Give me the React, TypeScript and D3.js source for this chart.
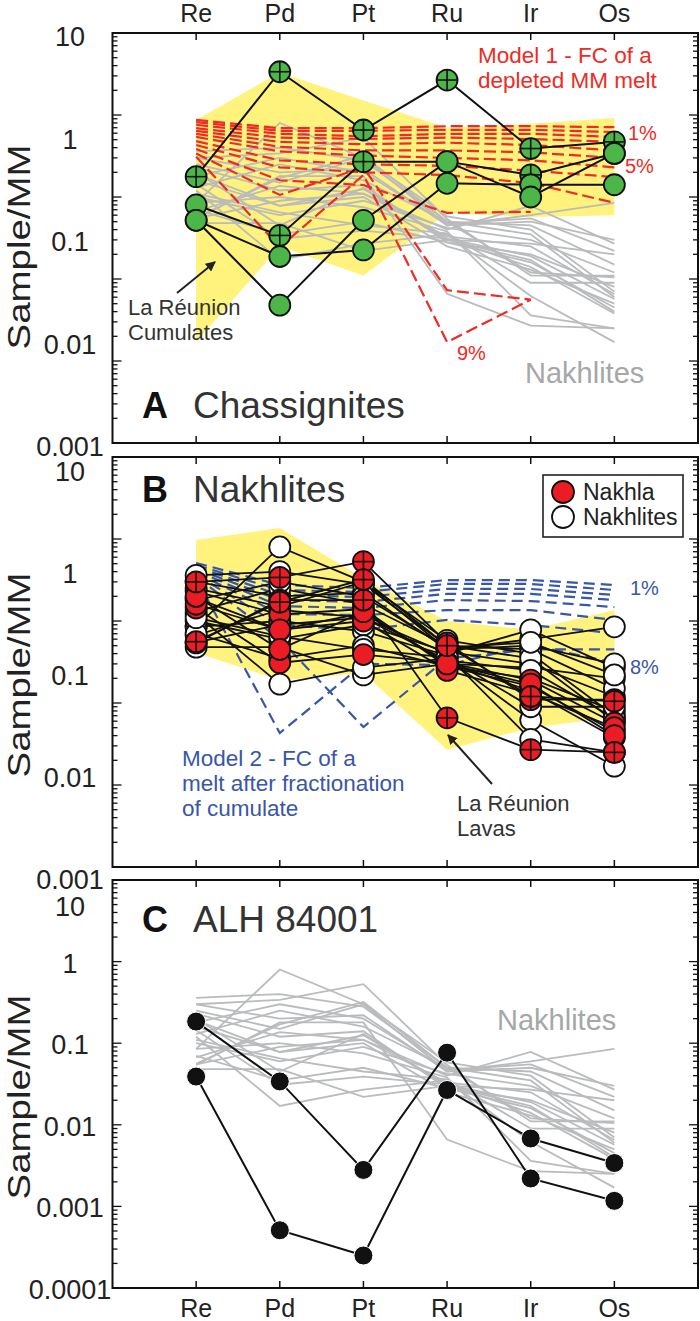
import React from "react";
import * as d3 from "d3";

// ---------- data ----------
const elements = ["Re", "Pd", "Pt", "Ru", "Ir", "Os"];

// Nakhlites (Sample/MM) - Nakhla analyses marked with a cross
const nakhlaCross: number[][] = [
  [0.30, 0.34, 0.53, 0.054, 0.011, 0.011],
  [0.054, 0.18, 0.18, 0.0066, 0.0027, 0.0025],
  [0.056, 0.17, 0.32, 0.05, 0.012, 0.0105],
];
const nakhlaSolid: number[][] = [
  [0.19, 0.078, 0.125, 0.031, 0.019, 0.0057],
  [0.144, 0.031, 0.039, 0.031, 0.014, 0.0038],
  [0.23, 0.12, 0.14, 0.028, 0.016, 0.0045],
  [0.16, 0.078, 0.10, 0.025, 0.013, 0.005],
  [0.20, 0.045, 0.13, 0.03, 0.017, 0.004],
];
const otherNakhlites: number[][] = [
  [0.085, 0.8, 0.3, 0.045, 0.06, 0.085],
  [0.067, 0.137, 0.11, 0.04, 0.078, 0.027],
  [0.048, 0.048, 0.022, 0.03, 0.027, 0.02],
  [0.12, 0.017, 0.027, 0.035, 0.0062, 0.0017],
  [0.3, 0.2, 0.22, 0.045, 0.05, 0.03],
  [0.085, 0.1, 0.075, 0.038, 0.0036, 0.0025],
  [0.1, 0.06, 0.09, 0.042, 0.03, 0.012],
  [0.13, 0.25, 0.16, 0.05, 0.045, 0.015],
  [0.07, 0.035, 0.05, 0.028, 0.02, 0.008],
  [0.25, 0.15, 0.3, 0.058, 0.04, 0.007],
  [0.36, 0.4, 0.28, 0.05, 0.035, 0.006],
  [0.055, 0.09, 0.11, 0.033, 0.025, 0.0065],
  [0.18, 0.3, 0.2, 0.047, 0.055, 0.022],
  [0.11, 0.065, 0.045, 0.036, 0.009, 0.009],
];

// Chassignites
const chassignites: number[][] = [
  [0.177, 3.37, 0.656, 2.67, 0.39, 0.47],
  [0.08, 0.034, 0.27, 0.27, 0.186, 0.34],
  [0.052, 0.0188, 0.0226, 0.147, 0.141, 0.141],
  [0.052, 0.0048, 0.052, 0.27, 0.1, 0.34],
];
const chassigniteCross: boolean[][] = [
  [true, true, true, true, true, true],
  [false, true, true, false, true, false],
  [false, false, false, false, false, false],
  [false, false, false, false, false, false],
];

// La Réunion fields (min / max)
const cumulateMax = [0.87, 3.3, 1.5, 0.7, 0.78, 0.92];
const cumulateMin = [0.0017, 0.025, 0.011, 0.064, 0.057, 0.06];
const lavaMax = [0.97, 1.36, 0.33, 0.1, 0.078, 0.136];
const lavaMin = [0.041, 0.019, 0.023, 0.0027, 0.005, 0.0067];

// Model 1 (red dashed)
const model1: (number | null)[][] = [
  [0.87, 0.69, 0.69, 0.73, 0.73, 0.71],
  [0.82, 0.64, 0.64, 0.66, 0.66, 0.62],
  [0.76, 0.59, 0.55, 0.59, 0.59, 0.54],
  [0.69, 0.53, 0.51, 0.53, 0.51, 0.47],
  [0.64, 0.47, 0.44, 0.46, 0.43, 0.37],
  [0.59, 0.41, 0.37, 0.37, 0.35, 0.3],
  [0.54, 0.36, 0.32, 0.3, 0.28, 0.23],
  [0.48, 0.28, 0.25, 0.24, 0.21, 0.175],
  [0.43, 0.23, 0.2, 0.185, 0.148, 0.085],
  [0.385, 0.16, 0.14, 0.064, 0.066, null],
  [0.34, 0.106, 0.23, 0.0073, 0.0056, null],
  [0.31, 0.0245, 0.185, 0.0017, 0.0056, null],
];

// Model 2 (blue dashed)
const model2: number[][] = [
  [0.51, 0.275, 0.253, 0.316, 0.316, 0.275],
  [0.48, 0.239, 0.226, 0.283, 0.283, 0.239],
  [0.456, 0.208, 0.196, 0.246, 0.246, 0.208],
  [0.431, 0.18, 0.171, 0.214, 0.214, 0.18],
  [0.407, 0.152, 0.144, 0.18, 0.175, 0.148],
  [0.385, 0.122, 0.118, 0.136, 0.136, 0.103],
  [0.364, 0.089, 0.078, 0.103, 0.089, 0.071],
  [0.344, 0.06, 0.0051, 0.035, 0.045, 0.045],
  [0.33, 0.0043, 0.03, 0.029, 0.051, 0.031],
];

// ALH 84001
const alh84001: number[][] = [
  [0.184, 0.034, 0.0028, 0.0766, 0.0022, 0.00117],
  [0.039, 0.00051, 0.00025, 0.0267, 0.0068, 0.0034],
];

const tickLabelsAB = [10, 1, 0.1, 0.01, 0.001];
const tickLabelsC = [10, 1, 0.1, 0.01, 0.001, 0.0001];

// ---------- layout ----------
const W = 700;
const H = 1321;
const FL = 112.5;
const FR = 698;
const panels = [
  { top: 33, bottom: 443, labTop: 37, labBottom: 447 },
  { top: 457, bottom: 867, labTop: 472, labBottom: 880 },
  { top: 880, bottom: 1288, labTop: 0, labBottom: 0 },
];
const FONT = "'Liberation Sans', Arial, Helvetica, sans-serif";
const GREEN = "#4cb748";
const RED = "#ec1c24";
const YELLOW = "#fff27d";
const GRAY = "#b9bbbd";
const BLUE = "#3956a8";
const MRED = "#ee2b24";

function Marker({ cx, cy, fill, cross, r = 10.5 }: { cx: number; cy: number; fill: string; cross?: boolean; r?: number }) {
  return (
    <g>
      <circle cx={cx} cy={cy} r={r} fill={fill} stroke="#111" strokeWidth={1.8} />
      {cross && (
        <>
          <line x1={cx - r} x2={cx + r} y1={cy} y2={cy} stroke="#111" strokeWidth={1.6} />
          <line x1={cx} x2={cx} y1={cy - r} y2={cy + r} stroke="#111" strokeWidth={1.6} />
        </>
      )}
    </g>
  );
}

export default function App() {
  const x = d3.scalePoint<string>().domain(elements).range([FL, FR]).padding(1);
  const ys = panels.map((p) => d3.scaleLog().domain([1e-4, 10]).range([p.bottom, p.top]));
  const xi = (i: number) => x(elements[i]) as number;

  const lineGen = (y: d3.ScaleLogarithmic<number, number>) =>
    d3
      .line<number | null>()
      .defined((v) => v != null)
      .x((_, i) => xi(i))
      .y((v) => y(v as number));

  const areaGen = (y: d3.ScaleLogarithmic<number, number>, lo: number[]) =>
    d3
      .area<number>()
      .x((_, i) => xi(i))
      .y0((_, i) => y(lo[i]))
      .y1((v) => y(v));

  const tickVals: { v: number; major: boolean }[] = [];
  for (let e = -4; e <= 0; e++) {
    for (let k = 1; k <= 9; k++) tickVals.push({ v: k * Math.pow(10, e), major: k === 1 });
  }
  tickVals.push({ v: 10, major: true });

  const allNakhlites = [...nakhlaCross, ...nakhlaSolid, ...otherNakhlites];

  const frame = (pi: number) => {
    const p = panels[pi];
    const y = ys[pi];
    return (
      <g key={"frame" + pi}>
        <rect x={FL} y={p.top} width={FR - FL} height={p.bottom - p.top} fill="none" stroke="#111" strokeWidth={2} />
        {tickVals.map((t, i) => {
          const yy = y(t.v);
          const len = t.major ? 9 : 5;
          return (
            <g key={i}>
              <line x1={FL} x2={FL + len} y1={yy} y2={yy} stroke="#111" strokeWidth={1.3} />
              <line x1={FR - len} x2={FR} y1={yy} y2={yy} stroke="#111" strokeWidth={1.3} />
            </g>
          );
        })}
        {elements.map((el) => (
          <g key={el}>
            <line x1={x(el)} x2={x(el)} y1={p.top} y2={p.top + 7} stroke="#111" strokeWidth={1.5} />
            <line x1={x(el)} x2={x(el)} y1={p.bottom - 7} y2={p.bottom} stroke="#111" strokeWidth={1.5} />
          </g>
        ))}
        <text
          transform={`translate(30,${(p.top + p.bottom) / 2 + (pi === 0 ? 9 : 13)}) rotate(-90)`}
          textAnchor="middle"
          fontFamily={FONT}
          fontSize={32}
          textLength={205}
          lengthAdjust="spacingAndGlyphs"
          fill="#222"
        >
          Sample/MM
        </text>
      </g>
    );
  };

  const abLabels = (pi: number) => {
    const p = panels[pi];
    const ls = d3.scaleLog().domain([0.001, 10]).range([p.labBottom, p.labTop]);
    return tickLabelsAB.map((v) => (
      <text key={"l" + pi + v} x={70} y={ls(v)} textAnchor="middle" dominantBaseline="central" fontFamily={FONT} fontSize={27} fill="#222">
        {String(v)}
      </text>
    ));
  };

  const yA = ys[0];
  const yB = ys[1];
  const yC = ys[2];

  return (
    <svg width={W} height={H} style={{ position: "absolute", left: 0, top: 0, background: "#fff" }}>
      <defs>
        <marker id="arrow" viewBox="0 0 10 10" refX="9" refY="5" markerWidth="5" markerHeight="5" orient="auto">
          <path d="M0,0 L10,5 L0,10 z" fill="#222" />
        </marker>
      </defs>
      <rect x={0} y={0} width={W} height={H} fill="#fff" />

      {/* category labels */}
      {elements.map((el) => (
        <text key={"t" + el} x={x(el)} y={22} textAnchor="middle" fontFamily={FONT} fontSize={25} fill="#222">
          {el}
        </text>
      ))}
      {elements.map((el) => (
        <text key={"b" + el} x={x(el)} y={1317} textAnchor="middle" fontFamily={FONT} fontSize={25} fill="#222">
          {el}
        </text>
      ))}

      {/* ---------- Panel A ---------- */}
      <path d={areaGen(yA, cumulateMin)(cumulateMax) || ""} fill={YELLOW} />
      {allNakhlites.map((s, i) => (
        <path key={"ga" + i} d={lineGen(yA)(s) || ""} fill="none" stroke={GRAY} strokeWidth={1.8} />
      ))}
      {model1.map((s, i) => (
        <path key={"m1" + i} d={lineGen(yA)(s) || ""} fill="none" stroke={MRED} strokeWidth={2.2} strokeDasharray="12,5" />
      ))}
      {chassignites.map((s, i) => (
        <path key={"cl" + i} d={lineGen(yA)(s) || ""} fill="none" stroke="#111" strokeWidth={2} />
      ))}
      {chassignites.map((s, i) =>
        s.map((v, j) => (
          <Marker key={"cm" + i + j} cx={xi(j)} cy={yA(v)} fill={GREEN} cross={chassigniteCross[i][j]} />
        ))
      )}
      <text x={478} y={55} dominantBaseline="central" fontFamily={FONT} fontSize={22.5} fill={MRED}>Model 1 - FC of a</text>
      <text x={478} y={80} dominantBaseline="central" fontFamily={FONT} fontSize={22.5} fill={MRED}>depleted MM melt</text>
      <text x={628} y={133} dominantBaseline="central" fontFamily={FONT} fontSize={20} fill={MRED}>1%</text>
      <text x={625} y={166} dominantBaseline="central" fontFamily={FONT} fontSize={20} fill={MRED}>5%</text>
      <text x={457} y={353} dominantBaseline="central" fontFamily={FONT} fontSize={20} fill={MRED}>9%</text>
      <text x={525} y={373} dominantBaseline="central" fontFamily={FONT} fontSize={29} fill="#a5a7a9">Nakhlites</text>
      <text x={128} y={307} dominantBaseline="central" fontFamily={FONT} fontSize={22} fill="#333">La Réunion</text>
      <text x={128} y={332} dominantBaseline="central" fontFamily={FONT} fontSize={22} fill="#333">Cumulates</text>
      <line x1={177} y1={293} x2={215} y2={262} stroke="#222" strokeWidth={2} markerEnd="url(#arrow)" />
      <text x={142} y={418} fontFamily={FONT} fontSize={36} fontWeight="bold" fill="#111">A</text>
      <text x={193} y={418} fontFamily={FONT} fontSize={37} fill="#333">Chassignites</text>
      {frame(0)}
      {abLabels(0)}

      {/* ---------- Panel B ---------- */}
      <path d={areaGen(yB, lavaMin)(lavaMax) || ""} fill={YELLOW} />
      {model2.map((s, i) => (
        <path key={"m2" + i} d={lineGen(yB)(s) || ""} fill="none" stroke={BLUE} strokeWidth={2.2} strokeDasharray="11,6" />
      ))}
      {allNakhlites.map((s, i) => (
        <path key={"bl" + i} d={lineGen(yB)(s) || ""} fill="none" stroke="#111" strokeWidth={1.8} />
      ))}
      {otherNakhlites.map((s, i) =>
        s.map((v, j) => <Marker key={"w" + i + j} cx={xi(j)} cy={yB(v)} fill="#fff" />)
      )}
      {nakhlaSolid.map((s, i) =>
        s.map((v, j) => <Marker key={"r" + i + j} cx={xi(j)} cy={yB(v)} fill={RED} />)
      )}
      {nakhlaCross.map((s, i) =>
        s.map((v, j) => <Marker key={"rc" + i + j} cx={xi(j)} cy={yB(v)} fill={RED} cross />)
      )}
      <rect x={543} y={475} width={140} height={62} fill="#fff" stroke="#222" strokeWidth={1.6} />
      <Marker cx={563} cy={492} fill={RED} r={11} />
      <Marker cx={563} cy={517} fill="#fff" r={11} />
      <text x={583} y={492} dominantBaseline="central" fontFamily={FONT} fontSize={23} fill="#222">Nakhla</text>
      <text x={583} y={517} dominantBaseline="central" fontFamily={FONT} fontSize={23} fill="#222">Nakhlites</text>
      <text x={630} y={588} dominantBaseline="central" fontFamily={FONT} fontSize={20} fill={BLUE}>1%</text>
      <text x={630} y={667} dominantBaseline="central" fontFamily={FONT} fontSize={20} fill={BLUE}>8%</text>
      <text x={182} y={758} dominantBaseline="central" fontFamily={FONT} fontSize={22.5} fill={BLUE}>Model 2 - FC of a</text>
      <text x={182} y={783} dominantBaseline="central" fontFamily={FONT} fontSize={22.5} fill={BLUE}>melt after fractionation</text>
      <text x={182} y={808} dominantBaseline="central" fontFamily={FONT} fontSize={22.5} fill={BLUE}>of cumulate</text>
      <text x={457} y={803} dominantBaseline="central" fontFamily={FONT} fontSize={22} fill="#333">La Réunion</text>
      <text x={457} y={828} dominantBaseline="central" fontFamily={FONT} fontSize={22} fill="#333">Lavas</text>
      <line x1={492} y1={784} x2={448} y2={735} stroke="#222" strokeWidth={2} markerEnd="url(#arrow)" />
      <text x={142} y={502} fontFamily={FONT} fontSize={36} fontWeight="bold" fill="#111">B</text>
      <text x={193} y={502} fontFamily={FONT} fontSize={37} fill="#333">Nakhlites</text>
      {frame(1)}
      {abLabels(1)}

      {/* ---------- Panel C ---------- */}
      {allNakhlites.map((s, i) => (
        <path key={"gc" + i} d={lineGen(yC)(s) || ""} fill="none" stroke={GRAY} strokeWidth={1.8} />
      ))}
      {alh84001.map((s, i) => (
        <path key={"al" + i} d={lineGen(yC)(s) || ""} fill="none" stroke="#111" strokeWidth={2} />
      ))}
      {alh84001.map((s, i) =>
        s.map((v, j) => <circle key={"ac" + i + j} cx={xi(j)} cy={yC(v)} r={9.5} fill="#111" stroke="#fff" strokeWidth={1} />)
      )}
      <text x={497} y={1020} dominantBaseline="central" fontFamily={FONT} fontSize={29} fill="#a5a7a9">Nakhlites</text>
      <text x={142} y={932} fontFamily={FONT} fontSize={36} fontWeight="bold" fill="#111">C</text>
      <text x={193} y={932} fontFamily={FONT} fontSize={37} fill="#333">ALH 84001</text>
      {frame(2)}
      {tickLabelsC.map((v) => (
        <text
          key={"lc" + v}
          x={70}
          y={Math.max(yC(v) + 2, panels[2].top + 27)}
          textAnchor="middle"
          dominantBaseline="central"
          fontFamily={FONT}
          fontSize={27}
          fill="#222"
        >
          {String(v)}
        </text>
      ))}
    </svg>
  );
}
